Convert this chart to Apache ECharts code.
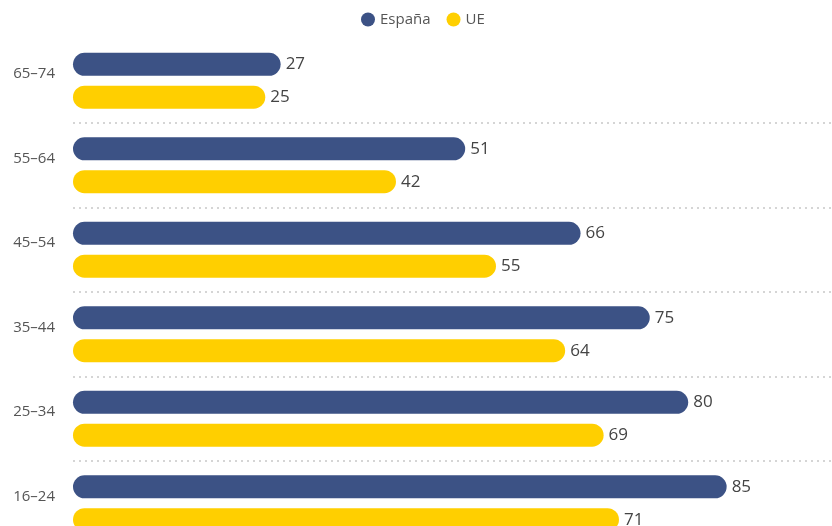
<!DOCTYPE html>
<html>
<head>
<meta charset="utf-8">
<style>
  html, body { margin: 0; padding: 0; background: #ffffff; overflow: hidden; }
  /* the plot runs past the bottom and right edges of the view */
  #chart { width: 842px; height: 560px; }
</style>
<script src="https://cdn.jsdelivr.net/npm/echarts@6/dist/echarts.min.js"></script>
</head>
<body>
<div id="chart"></div>
<script>
// Age groups, top to bottom
const ageGroups = ['65–74', '55–64', '45–54', '35–44', '25–34', '16–24'];
// Share (%) per age group
const spainValues = [27, 51, 66, 75, 80, 85];
const euValues = [25, 42, 55, 64, 69, 71];
const seriesNames = ['España', 'UE'];

const NAVY = '#3c5285';
const YELLOW = '#ffcf00';
const FONT = '"Open Sans", Inter, sans-serif';

const chart = echarts.init(document.getElementById('chart'), null, { renderer: 'canvas' });

const valueLabel = {
  show: true,
  position: 'right',
  distance: 5,
  color: '#444444',
  fontSize: 17,
  fontFamily: FONT
};

chart.setOption({
  animation: false,
  legend: {
    data: seriesNames,
    top: 7,
    left: 356,
    icon: 'circle',
    itemWidth: 14,
    itemHeight: 14,
    itemGap: 16,
    textStyle: { color: '#555555', fontSize: 15, fontFamily: FONT }
  },
  grid: {
    left: 73,
    top: 38.5,
    width: 769,
    height: 507,
    containLabel: false
  },
  xAxis: {
    type: 'value',
    min: 0,
    max: 100,
    show: false
  },
  yAxis: {
    type: 'category',
    data: ageGroups,
    inverse: true,
    axisLine: { show: false },
    axisTick: { show: false },
    axisLabel: {
      color: '#555555',
      fontSize: 15,
      fontFamily: FONT,
      margin: 18,
      verticalAlign: 'bottom',
      lineHeight: 14
    },
    splitLine: {
      show: true,
      interval: function (index) { return index > 0; },
      lineStyle: { color: '#c8c8c8', type: [2, 4], width: 1.5 }
    }
  },
  series: [
    {
      name: seriesNames[0],
      type: 'bar',
      data: spainValues,
      barWidth: 23,
      barGap: '43%',
      itemStyle: { color: NAVY, borderRadius: 11.5 },
      label: valueLabel
    },
    {
      name: seriesNames[1],
      type: 'bar',
      data: euValues,
      barWidth: 23,
      itemStyle: { color: YELLOW, borderRadius: 11.5 },
      label: valueLabel
    }
  ]
});
</script>
</body>
</html>
